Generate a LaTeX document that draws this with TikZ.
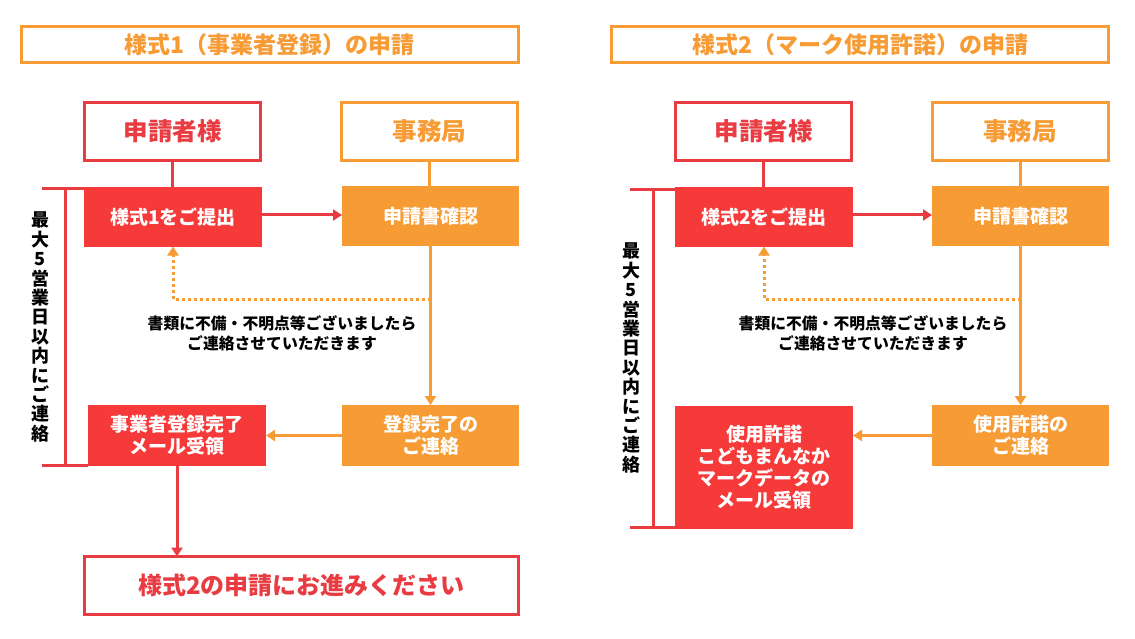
\documentclass[tikz,border=0pt]{standalone}
\usepackage{fontspec}
\setmainfont{Noto Sans CJK JP}
\usetikzlibrary{arrows.meta}
\definecolor{redfill}{RGB}{246,58,58}
\definecolor{redline}{RGB}{232,60,66}
\definecolor{orng}{RGB}{247,155,53}
\begin{document}
\begin{tikzpicture}[x=1pt,y=-1pt,
  every node/.style={inner sep=0pt,outer sep=0pt,font=\bfseries},
  titlebox/.style={draw=orng,line width=3pt,minimum width=497pt,minimum height=36pt,text=orng,font=\bfseries\fontsize{23}{26}\selectfont},
  headred/.style={draw=redline,line width=3pt,minimum width=176pt,minimum height=58pt,text=redline,font=\bfseries\fontsize{24.5}{26}\selectfont},
  headorg/.style={draw=orng,line width=3pt,minimum width=176pt,minimum height=58pt,text=orng,font=\bfseries\fontsize{24.5}{26}\selectfont},
  redstep/.style={fill=redfill,minimum width=178pt,minimum height=59pt,text=white,align=center,font=\bfseries\fontsize{19}{22}\selectfont},
  orgstep/.style={fill=orng,minimum width=177pt,minimum height=60pt,text=white,align=center,font=\bfseries\fontsize{19}{22}\selectfont},
  redconn/.style={draw=redline,line width=3pt},
  orgconn/.style={draw=orng,line width=3pt},
  tip/.style={-{Triangle[length=9pt,width=11pt]}},
  dotline/.style={draw=orng,line width=3pt,dash pattern=on 3pt off 3pt},
  note/.style={align=center,text=black,font=\bfseries\fontsize{15.8}{20}\selectfont},
  vtext/.style={align=center,text=black,font=\bfseries\fontsize{18}{19.4}\selectfont}
]
\useasboundingbox (0,0) rectangle (1135,639);
\fill[white] (0,0) rectangle (1135,639);

% ---------- left panel ----------
\node[titlebox] (t1) at (269.5,45) {様式1（事業者登録）の申請};
\node[headred] (a1) at (172.5,131.5) {申請者様};
\node[headorg] (o1) at (429.5,131.5) {事務局};
\node[redstep] (s1) at (173,217) {様式1をご提出};
\node[orgstep] (c1) at (430.5,216) {申請書確認};
\node[redstep,minimum height=61pt] (r1) at (177,435.5) {事業者登録完了\\メール受領};
\node[orgstep,minimum height=61pt] (n1) at (430.5,435.5) {登録完了の\\ご連絡};
\node[draw=redline,line width=3pt,minimum width=434pt,minimum height=58pt,text=redline,font=\bfseries\fontsize{24}{26}\selectfont] (b1) at (301.5,585.5) {様式2の申請にお進みください};
\node[note] (m1) at (282,333) {書類に不備・不明点等ございましたら\\ご連絡させていただきます};
\node[vtext] (v1) at (40,327) {最\\大\\5\\営\\業\\日\\以\\内\\に\\ご\\連\\絡};

\draw[redconn] (a1.south) -- (a1.south |- s1.north);
\draw[orgconn] (o1.south) -- (o1.south |- c1.north);
\draw[redconn,tip] (s1.east |- 0,215) -- (c1.west |- 0,215);
\draw[orgconn,tip] (c1.south) -- (n1.north);
\coordinate (d1) at (c1.south |- 0,299);
\draw[dotline,tip] (d1) -| (s1.south);
\draw[orgconn,tip] (n1.west) -- (r1.east);
\draw[redconn,tip] (r1.south) -- (b1.north -| r1.south);
\coordinate (k1t) at (42,189);
\coordinate (k1b) at (42,465);
\draw[redconn] (k1t) -- (s1.west |- k1t);
\draw[redconn] (k1b) -- (r1.west |- k1b);
\draw[redconn] (65,189) -- (65,465);

% ---------- right panel ----------
\node[titlebox] (t2) at (860,45) {様式2（マーク使用許諾）の申請};
\node[headred] (a2) at (763.5,131.5) {申請者様};
\node[headorg] (o2) at (1020,131.5) {事務局};
\node[redstep] (s2) at (764,217) {様式2をご提出};
\node[orgstep] (c2) at (1020.5,216) {申請書確認};
\node[redstep,minimum height=123pt] (r2) at (764,467.5) {使用許諾\\こどもまんなか\\マークデータの\\メール受領};
\node[orgstep,minimum height=61pt] (n2) at (1020.5,435.5) {使用許諾の\\ご連絡};
\node[note] (m2) at (873,333) {書類に不備・不明点等ございましたら\\ご連絡させていただきます};
\node[vtext] (v2) at (631,358) {最\\大\\5\\営\\業\\日\\以\\内\\に\\ご\\連\\絡};

\draw[redconn] (a2.south) -- (a2.south |- s2.north);
\draw[orgconn] (o2.south) -- (o2.south |- c2.north);
\draw[redconn,tip] (s2.east |- 0,215) -- (c2.west |- 0,215);
\draw[orgconn,tip] (c2.south) -- (n2.north);
\coordinate (d2) at (c2.south |- 0,299);
\draw[dotline,tip] (d2) -| (s2.south);
\draw[orgconn,tip] (n2.west) -- (r2.east |- n2.west);
\coordinate (k2t) at (630,190);
\coordinate (k2b) at (630,527);
\draw[redconn] (k2t) -- (s2.west |- k2t);
\draw[redconn] (k2b) -- (r2.west |- k2b);
\draw[redconn] (653,190) -- (653,527);
\end{tikzpicture}
\end{document}
